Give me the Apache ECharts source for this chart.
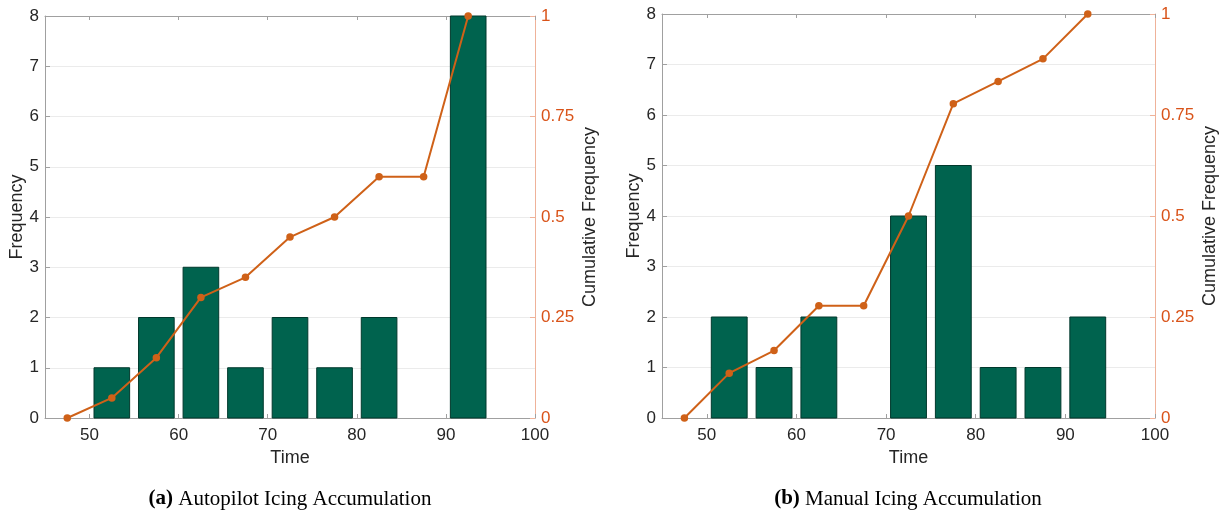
<!DOCTYPE html>
<html>
<head>
<meta charset="utf-8">
<script src="https://cdn.jsdelivr.net/npm/echarts@6/dist/echarts.min.js"></script>
<style>
  html, body { margin: 0; padding: 0; background: #fff; }
  #chart { width: 1229px; height: 515px; }
</style>
</head>
<body>
<div id="chart"></div>
<script>
// Bin centres (time) and counts for each histogram
const binCenters = [52.5, 57.5, 62.5, 67.5, 72.5, 77.5, 82.5, 87.5, 92.5];
const autopilotCounts = [1, 2, 3, 1, 2, 1, 2, 0, 8];
const manualCounts = [2, 1, 2, 0, 4, 5, 1, 1, 2];

// Cumulative frequency points (start at left edge of first bin)
const cumTimes = [47.5, 52.5, 57.5, 62.5, 67.5, 72.5, 77.5, 82.5, 87.5, 92.5];
const autopilotCum = [0, 0.05, 0.15, 0.30, 0.35, 0.45, 0.50, 0.60, 0.60, 1];
const manualCum = [0, 0.111, 0.167, 0.278, 0.278, 0.5, 0.778, 0.833, 0.889, 1];

// Axis ticks
const timeTicks = [50, 60, 70, 80, 90, 100];
const captions = [
  { tag: '(a)', text: 'Autopilot Icing Accumulation' },
  { tag: '(b)', text: 'Manual Icing Accumulation' }
];

const BAR_SPAN = 4;          // bar width in time units
const BAR_FILL = '#00634E';
const BAR_EDGE = '#00382C';
const LINE_COLOR = '#CF6118';
const ORANGE_TEXT = '#D95319';
const ORANGE_AXIS = '#EFB299';
const GRAY_AXIS = '#A0A0A0';
const TEXT = '#262626';
const FONT = '"Liberation Sans", Arial, Helvetica, sans-serif';
const TICK_SIZE = 17;
const TITLE_SIZE = 18;

const grids = [
  { left: 45, top: 16, width: 490, height: 402 },
  { left: 662, top: 14, width: 493, height: 404 }
];

function pair(v, c) { return v.map((x, i) => [x, c[i]]); }

const xAxes = [], yAxes = [], series = [];
grids.forEach((g, gi) => {
  // bottom time axis
  xAxes.push({
    type: 'value', gridIndex: gi, position: 'bottom', min: 45, max: 100,
    name: 'Time', nameLocation: 'middle', nameGap: 31,
    nameTextStyle: { fontFamily: FONT, fontSize: TITLE_SIZE, color: TEXT },
    axisLine: { show: true, onZero: false, lineStyle: { color: GRAY_AXIS, width: 1 } },
    axisTick: { show: true, inside: true, length: 4, customValues: timeTicks, lineStyle: { color: GRAY_AXIS } },
    axisLabel: { customValues: timeTicks, margin: 9, fontFamily: FONT, fontSize: TICK_SIZE, color: TEXT },
    splitLine: { show: false }
  });
  // top box edge
  xAxes.push({
    type: 'value', gridIndex: gi, position: 'top', min: 45, max: 100,
    axisLine: { show: true, onZero: false, lineStyle: { color: GRAY_AXIS, width: 1 } },
    axisTick: { show: true, inside: true, length: 4, customValues: timeTicks, lineStyle: { color: GRAY_AXIS } },
    axisLabel: { show: false },
    splitLine: { show: false }
  });
  // left frequency axis
  yAxes.push({
    type: 'value', gridIndex: gi, position: 'left', min: 0, max: 8, interval: 1,
    name: 'Frequency', nameLocation: 'middle', nameGap: 19,
    nameTextStyle: { fontFamily: FONT, fontSize: TITLE_SIZE, color: TEXT },
    axisLine: { show: true, lineStyle: { color: GRAY_AXIS, width: 1 } },
    axisTick: { show: true, inside: true, length: 5, lineStyle: { color: GRAY_AXIS } },
    axisLabel: { margin: 6, fontFamily: FONT, fontSize: TICK_SIZE, color: TEXT },
    splitLine: { show: true, lineStyle: { color: '#EBEBEB', width: 1 } }
  });
  // right cumulative axis
  yAxes.push({
    type: 'value', gridIndex: gi, position: 'right', min: 0, max: 1, interval: 0.25,
    name: 'Cumulative Frequency', nameLocation: 'middle', nameGap: 46,
    nameTextStyle: { fontFamily: FONT, fontSize: TITLE_SIZE, color: TEXT },
    axisLine: { show: true, lineStyle: { color: ORANGE_AXIS, width: 1 } },
    axisTick: { show: true, inside: true, length: 5, lineStyle: { color: ORANGE_AXIS } },
    axisLabel: { margin: 6, fontFamily: FONT, fontSize: TICK_SIZE, color: ORANGE_TEXT },
    splitLine: { show: false }
  });
});

function barSeries(gi, counts) {
  return {
    type: 'custom', xAxisIndex: gi * 2, yAxisIndex: gi * 2,
    data: pair(binCenters, counts),
    encode: { x: 0, y: 1 },
    z: 2,
    renderItem: function (params, api) {
      const x = api.value(0), y = api.value(1);
      if (!y) return null;
      const p0 = api.coord([x - BAR_SPAN / 2, y]);
      const p1 = api.coord([x + BAR_SPAN / 2, 0]);
      return {
        type: 'rect',
        shape: { x: p0[0], y: p0[1], width: p1[0] - p0[0], height: p1[1] - p0[1] },
        style: { fill: BAR_FILL, stroke: BAR_EDGE, lineWidth: 1 }
      };
    }
  };
}

function cumSeries(gi, cum) {
  return {
    type: 'line', xAxisIndex: gi * 2, yAxisIndex: gi * 2 + 1,
    data: pair(cumTimes, cum),
    z: 5, clip: false,
    symbol: 'circle', symbolSize: 7.5,
    lineStyle: { color: LINE_COLOR, width: 2 },
    itemStyle: { color: LINE_COLOR, borderWidth: 0 },
    animation: false
  };
}

series.push(barSeries(0, autopilotCounts), cumSeries(0, autopilotCum));
series.push(barSeries(1, manualCounts), cumSeries(1, manualCum));

// Sub-figure captions below each panel
const captionCenters = [290, 908];
const SERIF = '"Liberation Serif", "Times New Roman", serif';
const graphics = captions.map((c, i) => ({
  type: 'text',
  style: {
    text: '{b|' + c.tag + '} ' + c.text,
    x: captionCenters[i], y: 499,
    align: 'center', verticalAlign: 'middle',
    font: '21px ' + SERIF,
    fill: '#000',
    rich: {
      b: { fontFamily: SERIF, fontWeight: 'bold', fontSize: 21, fill: '#000' }
    }
  }
}));

const chart = echarts.init(document.getElementById('chart'), null, { renderer: 'canvas' });
chart.setOption({
  animation: false,
  backgroundColor: '#ffffff',
  textStyle: { fontFamily: FONT },
  grid: grids.map(g => Object.assign({ containLabel: false, outerBoundsMode: 'none' }, g)),
  xAxis: xAxes,
  yAxis: yAxes,
  series: series,
  graphic: graphics
});
</script>
</body>
</html>
